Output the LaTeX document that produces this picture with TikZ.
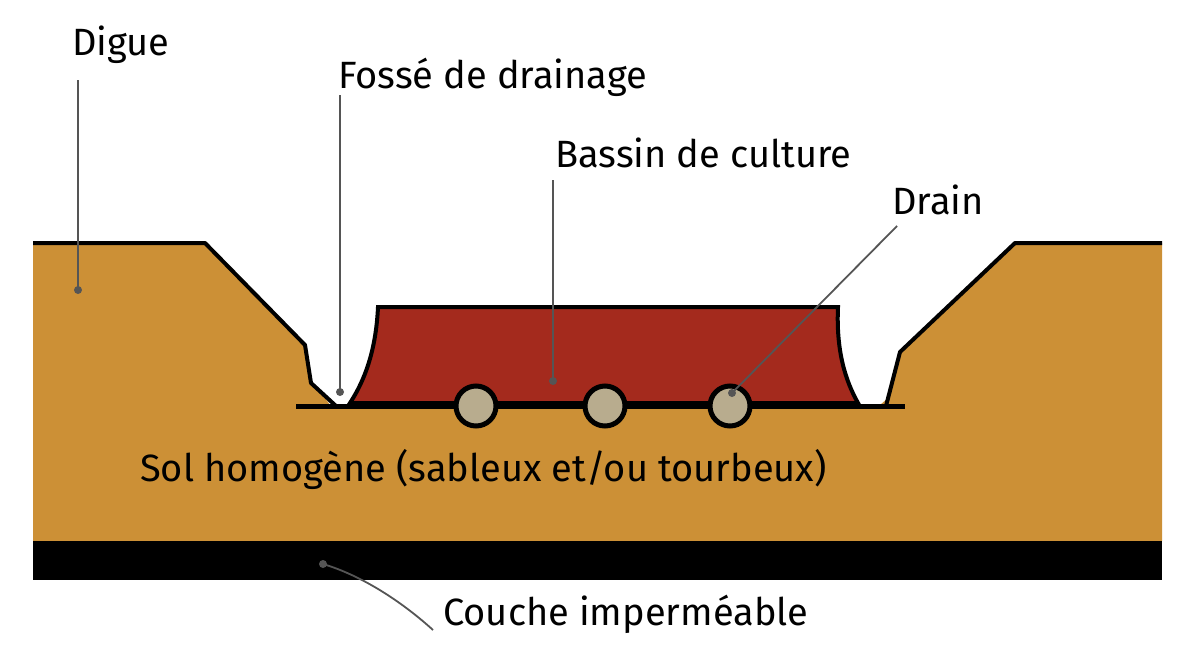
\documentclass[tikz,border=0pt]{standalone}
\usepackage{fontspec}
\setmainfont{Fira Sans}
\definecolor{soil}{HTML}{CC9036}
\definecolor{basin}{HTML}{A42A1D}
\definecolor{drainc}{HTML}{B8AC8E}
\definecolor{lead}{HTML}{555555}
\begin{document}
\begin{tikzpicture}[x=1pt,y=-1pt,
  lbl/.style={font=\fontsize{38}{42}\selectfont,inner sep=0},
  leader/.style={draw=lead,line width=1.8pt},
  dot/.style={circle,fill=lead,inner sep=0,minimum size=8pt}]
\useasboundingbox (0,0) rectangle (1198,669);
% soil
\fill[soil] (33,243) -- (205,243) -- (305,345) -- (311,383) -- (325,398) -- (330,405) -- (880,405) -- (888,398) -- (900,352) -- (1015,243) -- (1162,243) -- (1162,541) -- (33,541) -- cycle;
\draw[line width=4pt,line join=round] (33,243) -- (205,243) -- (305,345) -- (311,383) -- (336,406);
\draw[line width=4pt,line join=round] (1162,243) -- (1015,243) -- (900,352) -- (886,406);
% basin
\draw[line width=4pt,fill=basin] (378,307) -- (838,307) .. controls (836,350) and (845,380) .. (858,403) -- (350,403) .. controls (365,380) and (376,350) .. (378,307) -- cycle;
% floor
\draw[line width=5pt] (296,406) -- (905,406);
% drains
\foreach \n/\x in {d1/476,d2/605,d3/730}
  \node[circle,draw,line width=5pt,fill=drainc,minimum size=40pt,inner sep=0] (\n) at (\x,406) {};
% impermeable layer
\fill[black] (33,541) rectangle (1162,580);
% labels
\node[lbl,anchor=west] (digue) at (72,45) {Digue};
\node[lbl,anchor=west] (fosse) at (338,77) {Fossé de drainage};
\node[lbl,anchor=west] (bassin) at (555,153) {Bassin de culture};
\node[lbl,anchor=west] (drain) at (892,200) {Drain};
\node[lbl,anchor=west] (sol) at (140,469) {Sol homogène (sableux et/ou tourbeux)};
\node[lbl,anchor=west] (couche) at (443,614) {Couche imperméable};
% leaders
\coordinate (pd) at (78,290);
\coordinate (pf) at (340,392);
\coordinate (pb) at (553,381);
\coordinate (pdr) at (732,393);
\coordinate (pc) at (323,564);
\draw[leader] (78,80) -- (pd); \node[dot] at (pd) {};
\draw[leader] (340,95) -- (pf); \node[dot] at (pf) {};
\draw[leader] (553,180) -- (pb); \node[dot] at (pb) {};
\draw[leader] (897,226) -- (pdr); \node[dot] at (pdr) {};
\draw[leader] (433,630) .. controls (400,600) and (360,575) .. (pc); \node[dot] at (pc) {};
\end{tikzpicture}
\end{document}
